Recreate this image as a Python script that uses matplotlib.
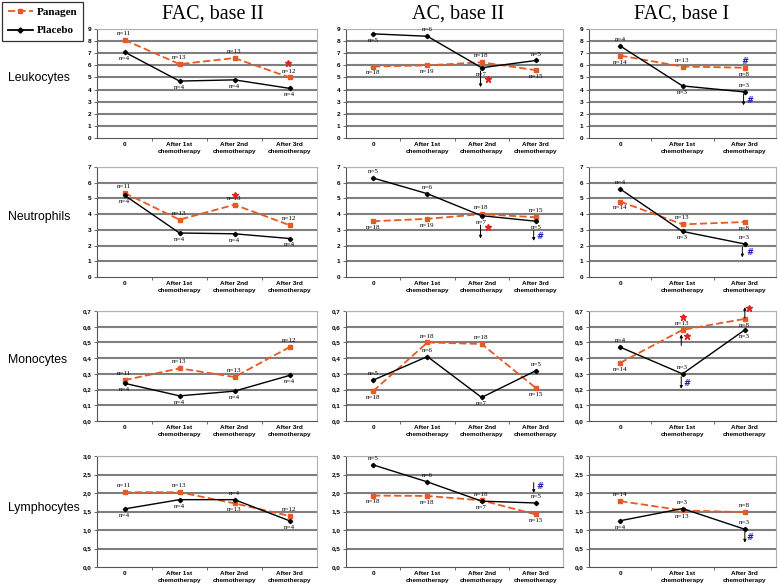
import matplotlib
matplotlib.use('Agg')
import matplotlib.pyplot as plt
from matplotlib.lines import Line2D
from matplotlib.ticker import FuncFormatter, FixedLocator

# ---------------- data ----------------
groups = ['FAC, base II', 'AC, base II', 'FAC, base I']
cats_4 = ['0', 'After 1st\nchemotherapy', 'After 2nd\nchemotherapy', 'After 3rd\nchemotherapy']
cats_3 = ['0', 'After 1st\nchemotherapy', 'After 3rd\nchemotherapy']
group_cats = [cats_4, cats_4, cats_3]
rows = ['Leukocytes', 'Neutrophils', 'Monocytes', 'Lymphocytes']
ymax = [9, 7, 0.7, 3.0]
ystep = [1, 1, 0.1, 0.5]
ydec = [0, 0, 1, 1]

leuko_panagen = [[8.1, 6.1, 6.6, 5.0], [5.9, 6.0, 6.25, 5.6], [6.8, 5.9, 5.8]]
leuko_placebo = [[7.1, 4.7, 4.8, 4.1], [8.6, 8.4, 5.8, 6.4], [7.6, 4.3, 3.8]]
neutro_panagen = [[5.35, 3.65, 4.6, 3.3], [3.55, 3.7, 4.0, 3.8], [4.8, 3.35, 3.5]]
neutro_placebo = [[5.2, 2.8, 2.75, 2.45], [6.3, 5.3, 3.9, 3.55], [5.6, 2.9, 2.1]]
mono_panagen = [[0.26, 0.335, 0.28, 0.47], [0.19, 0.50, 0.49, 0.21], [0.37, 0.58, 0.65]]
mono_placebo = [[0.24, 0.16, 0.19, 0.29], [0.26, 0.41, 0.15, 0.32], [0.47, 0.30, 0.58]]
lympho_panagen = [[2.02, 2.02, 1.72, 1.38], [1.93, 1.92, 1.80, 1.42], [1.78, 1.53, 1.48]]
lympho_placebo = [[1.57, 1.82, 1.82, 1.25], [2.76, 2.30, 1.78, 1.73], [1.25, 1.58, 1.02]]

n_panagen_leuko = [[11, 13, 13, 12], [18, 19, 18, 15], [14, 13, 8]]
n_panagen_neutro = [[11, 13, 13, 12], [18, 19, 18, 15], [14, 13, 8]]
n_panagen_mono = [[11, 13, 13, 12], [18, 18, 18, 15], [14, 13, 8]]
n_panagen_lympho = [[11, 13, 13, 12], [18, 18, 18, 15], [14, 13, 8]]
n_placebo = [[4, 4, 4, 4], [5, 6, 7, 5], [4, 3, 3]]

panagen_rows = [leuko_panagen, neutro_panagen, mono_panagen, lympho_panagen]
placebo_rows = [leuko_placebo, neutro_placebo, mono_placebo, lympho_placebo]
n_panagen_rows = [n_panagen_leuko, n_panagen_neutro, n_panagen_mono, n_panagen_lympho]

# label placement: a = above point, b = below point
pos_panagen = [['aaaa', 'bbab', 'bab'], ['aaaa', 'bbaa', 'bab'],
               ['aaaa', 'baab', 'bab'], ['aaba', 'bbab', 'aba']]
pos_placebo = [['bbbb', 'baba', 'aba'], ['bbbb', 'aabb', 'aba'],
               ['bbbb', 'aaba', 'aab'], ['bbab', 'aaba', 'baa']]

# significance marks (row, col, x, y)
red_stars = [(0, 0, 2.97, 6.2), (0, 1, 2.12, 4.9), (1, 0, 2.0, 5.2), (1, 1, 2.12, 3.2),
             (2, 2, 1.0, 0.66), (2, 2, 1.08, 0.543), (2, 2, 2.07, 0.717)]
blue_hash = [(0, 2, 2.0, 6.35), (0, 2, 2.07, 3.1), (1, 1, 3.07, 2.6), (1, 2, 2.07, 1.57),
             (2, 2, 1.07, 0.24), (3, 1, 3.07, 2.17), (3, 2, 2.07, 0.80)]
arrows = [(0, 1, 1.98, 5.55, 4.2), (0, 2, 1.98, 3.6, 2.7),
          (1, 1, 1.98, 3.3, 2.45), (1, 1, 2.96, 2.95, 2.3), (1, 2, 1.96, 1.9, 1.25),
          (2, 2, 0.98, 0.48, 0.55), (2, 2, 0.98, 0.282, 0.205), (2, 2, 2.0, 0.655, 0.725),
          (3, 1, 2.96, 2.28, 2.0), (3, 2, 2.0, 0.94, 0.66)]

# ---------------- style ----------------
ORANGE = '#E65A24'
RED = '#E2231A'
BLUE = '#1D1DB5'
GRID = '#7f7f7f'
SERIF = 'Liberation Serif'
SANS = 'Liberation Sans'

W, H = 778, 587
fig = plt.figure(figsize=(W / 100, H / 100), dpi=100)

col_px = [(97, 317), (346, 563), (589, 776)]
row_px = [(29, 138), (167, 277), (311, 421), (456, 567)]
row_label_y = [78, 217, 360, 508]
title_x = [213, 458, 682]


def fmt_factory(dec):
    def f(v, p):
        if dec == 0:
            return '%d' % round(v)
        return ('%.1f' % v).replace('.', ',')
    return f


axes = {}
for r in range(4):
    for c in range(3):
        x0, x1 = col_px[c]
        y0, y1 = row_px[r]
        ax = fig.add_axes([x0 / W, 1 - y1 / H, (x1 - x0) / W, (y1 - y0) / H])
        axes[(r, c)] = ax
        cats = group_cats[c]
        nc = len(cats)
        xs = list(range(nc))
        ax.set_xlim(-0.5, nc - 0.5)
        ax.set_ylim(0, ymax[r])
        nt = int(round(ymax[r] / ystep[r]))
        ticks = [i * ystep[r] for i in range(nt + 1)]
        ax.set_yticks(ticks)
        ax.yaxis.set_major_formatter(FuncFormatter(fmt_factory(ydec[r])))
        for t in ticks[1:]:
            ax.axhline(t, color=GRID, lw=1.5, zorder=0)
        ax.set_xticks(xs)
        ax.set_xticklabels(cats)
        ax.xaxis.set_minor_locator(FixedLocator([i + 0.5 for i in range(nc - 1)]))
        ax.tick_params(axis='x', which='major', length=0, pad=3)
        ax.tick_params(axis='x', which='minor', length=2.5, width=0.6, color='#555555', direction='out')
        ax.tick_params(axis='y', length=2, width=0.6, color='#555555', pad=2)
        for lab in ax.get_xticklabels() + ax.get_yticklabels():
            lab.set_fontsize(4.6)
            lab.set_fontweight('bold')
            lab.set_family(SANS)
        for lab in ax.get_xticklabels():
            lab.set_linespacing(1.5)
        for s in ['left', 'bottom']:
            ax.spines[s].set_color('#555555')
            ax.spines[s].set_linewidth(0.8)
        for s in ['right', 'top']:
            ax.spines[s].set_color('#b0b0b0')
            ax.spines[s].set_linewidth(0.8)

        pan = panagen_rows[r][c]
        pla = placebo_rows[r][c]
        ax.plot(xs, pan, color=ORANGE, lw=1.3, ls=(0, (4, 1.8)), marker='s', ms=2.6,
                mec=ORANGE, mfc=ORANGE, zorder=3, clip_on=False)
        ax.plot(xs, pla, color='black', lw=1.0, marker='D', ms=2.2, zorder=4, clip_on=False)

        for series, nvals, pos in [(pan, n_panagen_rows[r][c], pos_panagen[r][c]),
                                   (pla, n_placebo[c], pos_placebo[r][c])]:
            for i, (v, n) in enumerate(zip(series, nvals)):
                dy = 4.6 if pos[i] == 'a' else -4.6
                ax.annotate('n=%d' % n, xy=(i, v), xytext=(0, dy), textcoords='offset points',
                            ha='center', va='center', fontsize=5, family=SERIF,
                            annotation_clip=False, zorder=6)

        if c == 0:
            fig.text(8 / W, 1 - row_label_y[r] / H, rows[r], fontsize=8.8, family=SANS,
                     ha='left', va='center')
        if r == 0:
            fig.text(title_x[c] / W, 1 - 14 / H, groups[c], fontsize=14.5, family=SERIF,
                     ha='center', va='center')

for (r, c, x, y) in red_stars:
    axes[(r, c)].plot([x], [y], marker='*', color=RED, ms=5, ls='none', clip_on=False, zorder=7)
for (r, c, x, y) in blue_hash:
    axes[(r, c)].text(x, y, '#', color=BLUE, fontsize=6, fontweight='bold', style='italic',
                      ha='center', va='center', family='DejaVu Sans', zorder=7, clip_on=False)
for (r, c, x, ya, yb) in arrows:
    axes[(r, c)].annotate('', xy=(x, yb), xytext=(x, ya),
                          arrowprops=dict(arrowstyle='-|>', lw=0.7, color='black',
                                          mutation_scale=4, shrinkA=0, shrinkB=0),
                          annotation_clip=False, zorder=7)

handles = [Line2D([], [], color=ORANGE, lw=1.3, ls=(0, (4, 1.8)), marker='s', ms=3,
                  mec=ORANGE, mfc=ORANGE),
           Line2D([], [], color='black', lw=1.3, marker='D', ms=2.6)]
leg = fig.legend(handles, ['Panagen', 'Placebo'], loc='upper left',
                 bbox_to_anchor=(2 / W, 1 - 2 / H), frameon=True, fancybox=False,
                 edgecolor='black', prop=dict(family=SERIF, size=8, weight='bold'),
                 handlelength=2.3, handletextpad=0.3, borderpad=0.5, labelspacing=0.75,
                 borderaxespad=0)
leg.get_frame().set_linewidth(0.9)

fig.savefig('out.png', dpi=100)
